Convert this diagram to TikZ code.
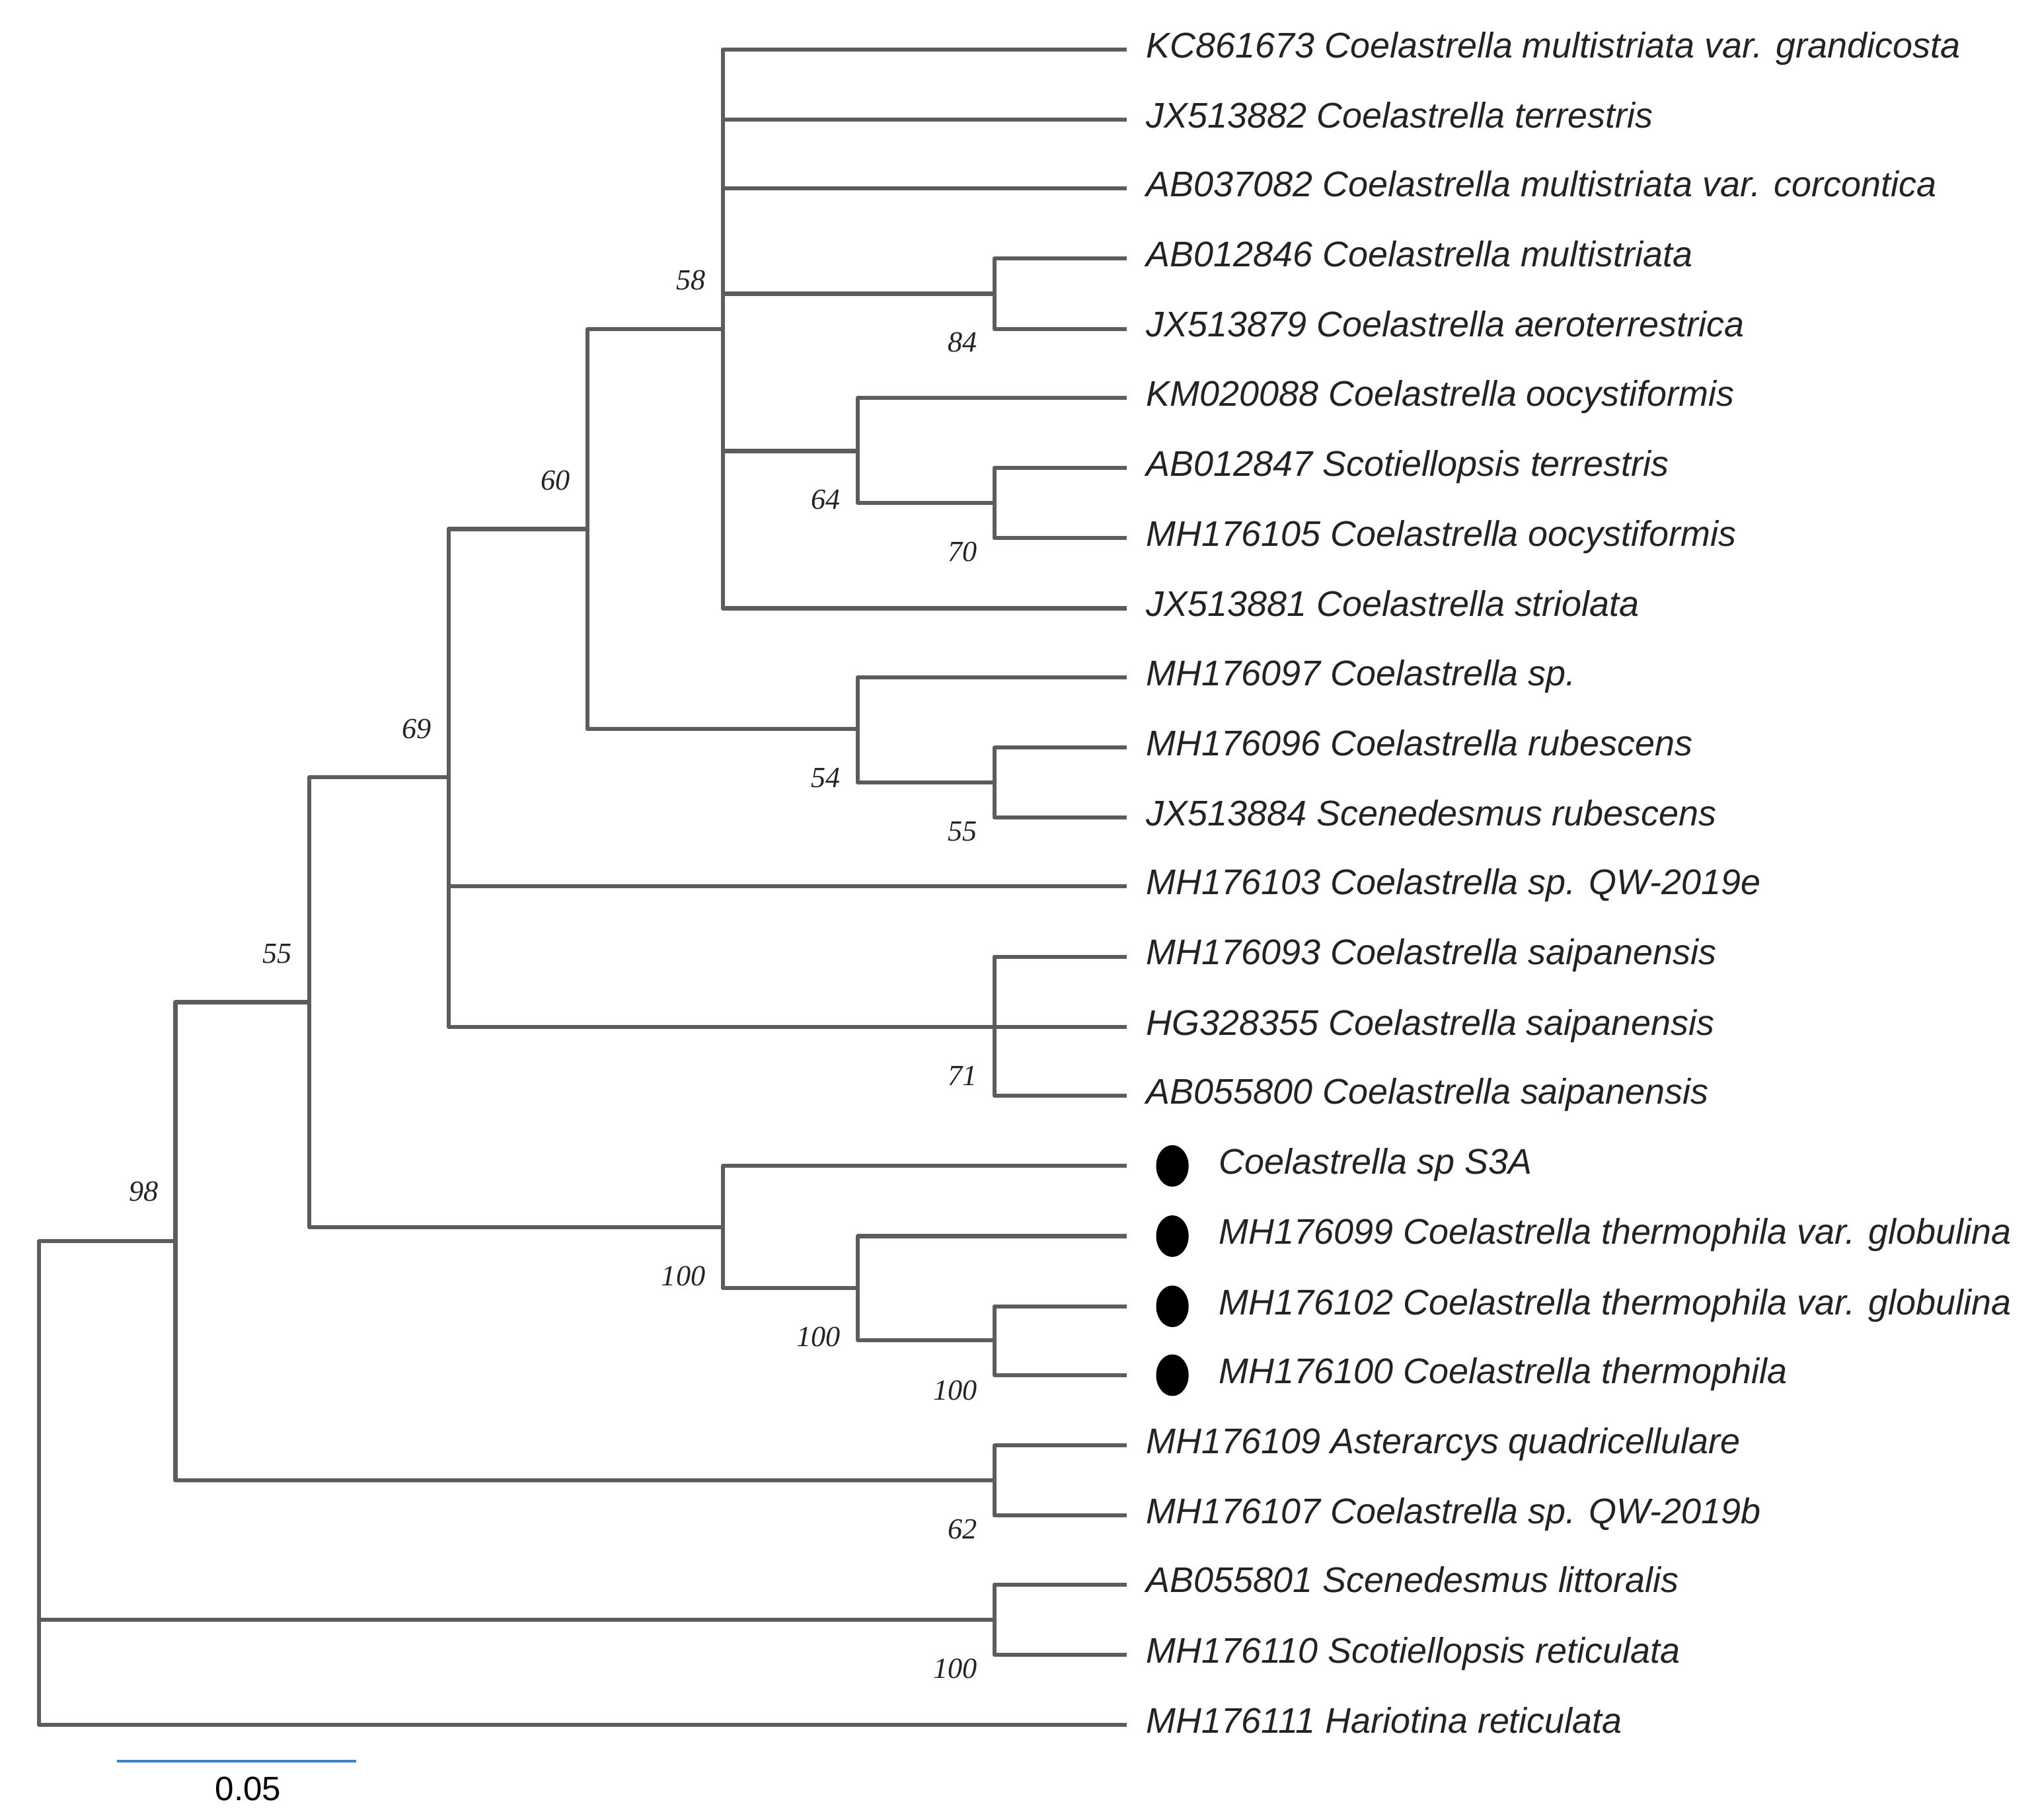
\documentclass[tikz,border=0pt]{standalone}
\usepackage{fontspec}
\usepackage{tikz}
\usetikzlibrary{positioning}
\usetikzlibrary{shapes.geometric}
\newfontfamily\leaffont{Liberation Sans}
\newfontfamily\bootfont{Liberation Serif}
\newfontfamily\barfont{Liberation Sans}
\definecolor{treegray}{RGB}{92,92,92}
\definecolor{bargblue}{RGB}{52,132,204}
\definecolor{labelgray}{RGB}{35,35,35}
\tikzset{branch/.style = {draw=treegray, line width=0.062cm, line join=round}}
\tikzset{leaf/.style = {anchor=west, inner sep=0, outer xsep=0.3cm,
                        text height=0.716em, text depth=0pt, text=labelgray,
                        font=\leaffont\itshape\fontsize{15.6pt}{18pt}\selectfont}}
\tikzset{leafdot/.style = {leaf, outer xsep=1.42cm}}
\tikzset{tipdot/.style = {fill=black, ellipse, inner sep=0,
                          minimum width=0.5cm, minimum height=0.64cm}}
\tikzset{boot/.style = {anchor=east, inner sep=0, text height=0.68em, text depth=0pt,
                        text=labelgray, font=\bootfont\itshape\fontsize{12.8pt}{14pt}\selectfont}}

\begin{document}
\begin{tikzpicture}[x=0.02cm, y=-0.02cm]
    \useasboundingbox (0, 0) rectangle (1568, 1400);

    % leaves
    \node [leaf] (l1) at (867, 38) {KC861673 Coelastrella multistriata var. grandicosta};
    \node [leaf] (l2) at (867, 92) {JX513882 Coelastrella terrestris};
    \node [leaf] (l3) at (867, 145) {AB037082 Coelastrella multistriata var. corcontica};
    \node [leaf] (l4) at (867, 199) {AB012846 Coelastrella multistriata};
    \node [leaf] (l5) at (867, 253) {JX513879 Coelastrella aeroterrestrica};
    \node [leaf] (l6) at (867, 306) {KM020088 Coelastrella oocystiformis};
    \node [leaf] (l7) at (867, 360) {AB012847 Scotiellopsis terrestris};
    \node [leaf] (l8) at (867, 414) {MH176105 Coelastrella oocystiformis};
    \node [leaf] (l9) at (867, 468) {JX513881 Coelastrella striolata};
    \node [leaf] (l10) at (867, 521) {MH176097 Coelastrella sp.};
    \node [leaf] (l11) at (867, 575) {MH176096 Coelastrella rubescens};
    \node [leaf] (l12) at (867, 629) {JX513884 Scenedesmus rubescens};
    \node [leaf] (l13) at (867, 682) {MH176103 Coelastrella sp. QW-2019e};
    \node [leaf] (l14) at (867, 736) {MH176093 Coelastrella saipanensis};
    \node [leaf] (l15) at (867, 790) {HG328355 Coelastrella saipanensis};
    \node [leaf] (l16) at (867, 843) {AB055800 Coelastrella saipanensis};
    \node [leafdot] (l17) at (867, 897) {Coelastrella sp S3A};
    \node [leafdot] (l18) at (867, 951) {MH176099 Coelastrella thermophila var. globulina};
    \node [leafdot] (l19) at (867, 1005) {MH176102 Coelastrella thermophila var. globulina};
    \node [leafdot] (l20) at (867, 1058) {MH176100 Coelastrella thermophila};
    \node [leaf] (l21) at (867, 1112) {MH176109 Asterarcys quadricellulare};
    \node [leaf] (l22) at (867, 1166) {MH176107 Coelastrella sp. QW-2019b};
    \node [leaf] (l23) at (867, 1219) {AB055801 Scenedesmus littoralis};
    \node [leaf] (l24) at (867, 1273) {MH176110 Scotiellopsis reticulata};
    \node [leaf] (l25) at (867, 1327) {MH176111 Hariotina reticulata};

    \node [tipdot] (d17) at (902, 897) {};
    \node [tipdot] (d18) at (902, 951) {};
    \node [tipdot] (d19) at (902, 1005) {};
    \node [tipdot] (d20) at (902, 1058) {};

    % inner nodes
    \coordinate (n84) at (765, 226);
    \coordinate (n70) at (765, 387);
    \coordinate (n64) at (660, 347);
    \coordinate (n58) at (556, 253);
    \coordinate (n55b) at (765, 602);
    \coordinate (n54) at (660, 561);
    \coordinate (n60) at (452, 407);
    \coordinate (n71) at (765, 790);
    \coordinate (n69) at (345, 598);
    \coordinate (n100c) at (765, 1031);
    \coordinate (n100b) at (660, 991);
    \coordinate (n100a) at (556, 944);
    \coordinate (n55) at (238, 771);
    \coordinate (n62) at (765, 1139);
    \coordinate (n98) at (135, 955);
    \coordinate (nlit) at (765, 1246);
    \coordinate (root) at (30, 1140);

    % branches
    \draw [branch] (n58) |- (l1.west);
    \draw [branch] (n58) |- (l2.west);
    \draw [branch] (n58) |- (l3.west);
    \draw [branch] (n58) |- (n84);
    \draw [branch] (n84) |- (l4.west);
    \draw [branch] (n84) |- (l5.west);
    \draw [branch] (n58) |- (n64);
    \draw [branch] (n64) |- (l6.west);
    \draw [branch] (n64) |- (n70);
    \draw [branch] (n70) |- (l7.west);
    \draw [branch] (n70) |- (l8.west);
    \draw [branch] (n58) |- (l9.west);

    \draw [branch] (n60) |- (n58);
    \draw [branch] (n60) |- (n54);
    \draw [branch] (n54) |- (l10.west);
    \draw [branch] (n54) |- (n55b);
    \draw [branch] (n55b) |- (l11.west);
    \draw [branch] (n55b) |- (l12.west);

    \draw [branch] (n69) |- (n60);
    \draw [branch] (n69) |- (l13.west);
    \draw [branch] (n69) |- (n71);
    \draw [branch] (n71) |- (l14.west);
    \draw [branch] (n71) |- (l15.west);
    \draw [branch] (n71) |- (l16.west);

    \draw [branch] (n100a) |- (l17.west);
    \draw [branch] (n100a) |- (n100b);
    \draw [branch] (n100b) |- (l18.west);
    \draw [branch] (n100b) |- (n100c);
    \draw [branch] (n100c) |- (l19.west);
    \draw [branch] (n100c) |- (l20.west);

    \draw [branch] (n55) |- (n69);
    \draw [branch] (n55) |- (n100a);
    \draw [branch] (n62) |- (l21.west);
    \draw [branch] (n62) |- (l22.west);
    \draw [branch] (n98) |- (n55);
    \draw [branch] (n98) |- (n62);
    \draw [branch] (nlit) |- (l23.west);
    \draw [branch] (nlit) |- (l24.west);
    \draw [branch] (root) |- (n98);
    \draw [branch] (root) |- (nlit);
    \draw [branch] (root) |- (l25.west);

    % bootstrap values
    \node [boot] (b58) at (543, 217) {58};
    \node [boot] (b84) at (752, 265) {84};
    \node [boot] (b64) at (647, 386) {64};
    \node [boot] (b70) at (752, 426) {70};
    \node [boot] (b60) at (439, 371) {60};
    \node [boot] (b54) at (647, 600) {54};
    \node [boot] (b55b) at (752, 641) {55};
    \node [boot] (b69) at (332, 562) {69};
    \node [boot] (b71) at (752, 829) {71};
    \node [boot] (b55) at (225, 735) {55};
    \node [boot] (b100a) at (543, 983) {100};
    \node [boot] (b100b) at (647, 1030) {100};
    \node [boot] (b100c) at (752, 1071) {100};
    \node [boot] (b98) at (122, 918) {98};
    \node [boot] (b62) at (752, 1178) {62};
    \node [boot] (blit) at (752, 1285) {100};

    % scale bar
    \coordinate (s0) at (90, 1355);
    \coordinate (s1) at (274, 1355);
    \draw [draw=bargblue, line width=0.04cm] (s0) -- (s1);
    \node [inner sep=0, text height=0.72em, text depth=0pt, text=black,
           font=\barfont\fontsize{14.8pt}{16pt}\selectfont] (sl) at (191, 1379) {0.05};
\end{tikzpicture}
\end{document}
